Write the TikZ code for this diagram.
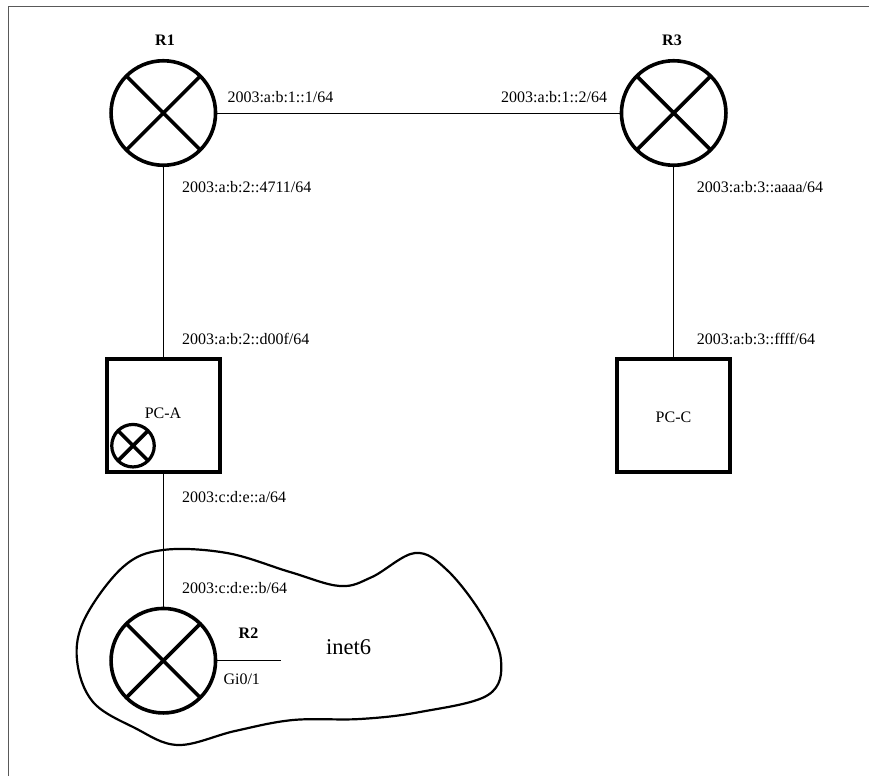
\documentclass[tikz,border=0pt]{standalone}
\usepackage{fontspec}
\setmainfont{Liberation Serif}
\usetikzlibrary{positioning}
\tikzset{
  router/.style={circle,draw,line width=3.6pt,minimum size=104.5pt,inner sep=0pt,
    path picture={\draw[line width=3.6pt]
      (path picture bounding box.north west)--(path picture bounding box.south east)
      (path picture bounding box.north east)--(path picture bounding box.south west);}},
  smallrouter/.style={router,line width=3.2pt,minimum size=42.5pt},
  pcbox/.style={rectangle,draw,line width=3.6pt,minimum size=113pt,inner sep=0pt},
  addr/.style={anchor=west,inner sep=0pt,font=\fontsize{16}{18}\selectfont},
  tag/.style={inner sep=0pt,font=\fontsize{16}{18}\selectfont\bfseries},
  link/.style={line width=1pt}
}
\begin{document}
\begin{tikzpicture}[x=1pt,y=-1pt,line cap=butt]
    \useasboundingbox (0,0) rectangle (869,776);
    % --- frame ---
    \draw[line width=1pt,gray!70!black] (8,776) -- (8,7) -- (869,7);
    % --- inet6 cloud ---
    \draw[line width=2.2pt] plot[smooth cycle,tension=0.6] coordinates {
      (163,550) (227,553) (290,572) (340,586) (372,577) (415,553) (447,570)
      (482,615) (501,660) (488,695) (420,712) (360,719) (293,720) (235,731)
      (178,745) (135,728) (93,702) (77,660) (85,618) (123,567)};
    % --- routers and hosts ---
    \node[router] (R1) at (163.3,113) {};
    \node[router] (R3) at (673.7,113) {};
    \node[router] (R2) at (163.3,660.7) {};
    \node[pcbox] (PCA) at (163.3,415.3) {};
    \node[pcbox] (PCC) at (673.7,415.3) {};
    \node[smallrouter] (PCAr) at (133,445.7) {};
    \coordinate (stub) at (280.7,660.7);
    % --- links ---
    \draw[link] (R1) -- (R3);
    \draw[link] (R1) -- (PCA);
    \draw[link] (R3) -- (PCC);
    \draw[link] (PCA) -- (R2);
    \draw[link] (R2.east) -- (stub);
    % --- names ---
    \node[tag] (nR1) at (165,40) {R1};
    \node[tag] (nR3) at (672,40) {R3};
    \node[tag] (nR2) at (248.5,632.7) {R2};
    \node[inner sep=0pt,font=\fontsize{16}{18}\selectfont] (nPCA) at (163,413.5) {PC-A};
    \node[inner sep=0pt,font=\fontsize{16}{18}\selectfont] (nPCC) at (673.5,417) {PC-C};
    \node[inner sep=0pt,font=\fontsize{22.5}{24}\selectfont] (ninet) at (348.5,647) {inet6};
    % --- addresses ---
    \node[addr] (a1) at (227.3,97) {2003:a:b:1::1/64};
    \node[addr] (a2) at (501,97) {2003:a:b:1::2/64};
    \node[addr] (a3) at (182,187) {2003:a:b:2::4711/64};
    \node[addr] (a4) at (696.7,187) {2003:a:b:3::aaaa/64};
    \node[addr] (a5) at (182,339) {2003:a:b:2::d00f/64};
    \node[addr] (a6) at (696.7,339) {2003:a:b:3::ffff/64};
    \node[addr] (a7) at (182,497) {2003:c:d:e::a/64};
    \node[addr] (a8) at (182,588) {2003:c:d:e::b/64};
    \node[addr] (gi) at (223.3,679) {Gi0/1};
\end{tikzpicture}
\end{document}
